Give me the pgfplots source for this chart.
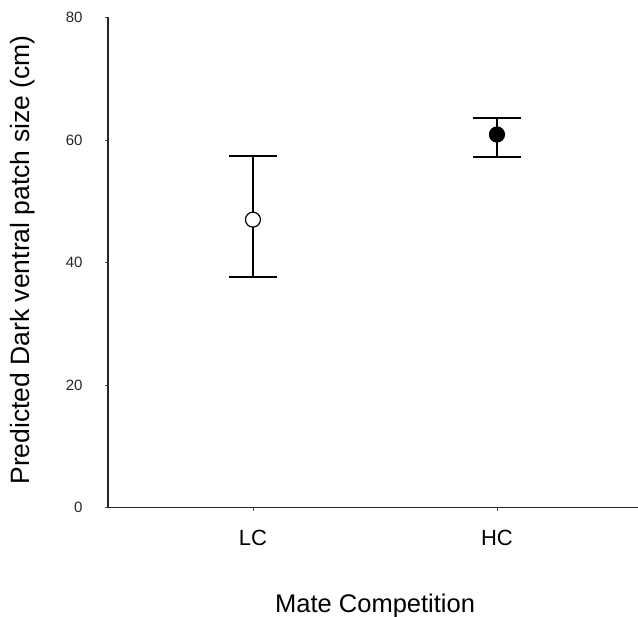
\documentclass[border=0pt]{standalone}
\usepackage{fontspec}
\setmainfont{Liberation Sans}
\usepackage{pgfplots}
\usepackage{pgfplotstable}
\pgfplotsset{compat=1.18}
\pgfplotstableread{
x y ep em
1 47.0 10.4 9.4
}\lcdata
\pgfplotstableread{
x y ep em
2 60.9 2.7 3.7
}\hcdata
\begin{document}
\begin{tikzpicture}
\begin{axis}[
  at={(0,0)}, anchor=south west,
  scale only axis, width=530bp, height=490bp,
  xmin=0.406, xmax=2.578, ymin=0, ymax=80,
  axis x line=bottom, axis y line=left,
  axis line style={-, line width=1.3bp, black!85},
  xtick={1,2}, xticklabels={LC,HC},
  ytick={0,20,40,60,80},
  tick align=outside, major tick length=3bp,
  tick style={line width=0.8bp, black!70},
  /pgf/number format/assume math mode=true,
  yticklabel style={font=\fontsize{15bp}{18bp}\selectfont, text=black!85, xshift=-19bp},
  xticklabel style={font=\fontsize{22bp}{26bp}\selectfont, yshift=-16bp},
  xlabel={Mate Competition},
  ylabel={Predicted Dark ventral patch size (cm)},
  xlabel style={font=\fontsize{25.5bp}{30bp}\selectfont, at={(axis description cs:0.504,-0.2143)}, anchor=base},
  ylabel style={font=\fontsize{26.5bp}{31bp}\selectfont, at={(axis description cs:-0.1472,0.505)}, anchor=base},
  clip=false,
  error bars/error bar style={line width=1.5bp, black},
  error bars/error mark options={rotate=90, mark size=24bp, line width=1.5bp, black},
]
\addplot[only marks, mark=*, mark size=7.5bp, mark options={fill=white, draw=black, line width=1.2bp},
  error bars/.cd, y dir=both, y explicit]
  table[x=x, y=y, y error plus=ep, y error minus=em] {\lcdata};
\addplot[only marks, mark=*, mark size=7.5bp, mark options={fill=black, draw=black, line width=1.2bp},
  error bars/.cd, y dir=both, y explicit]
  table[x=x, y=y, y error plus=ep, y error minus=em] {\hcdata};
\end{axis}
\pgfresetboundingbox
\path[use as bounding box] (-108bp,-109.5bp) rectangle (530bp,507.5bp);
\end{tikzpicture}
\end{document}
